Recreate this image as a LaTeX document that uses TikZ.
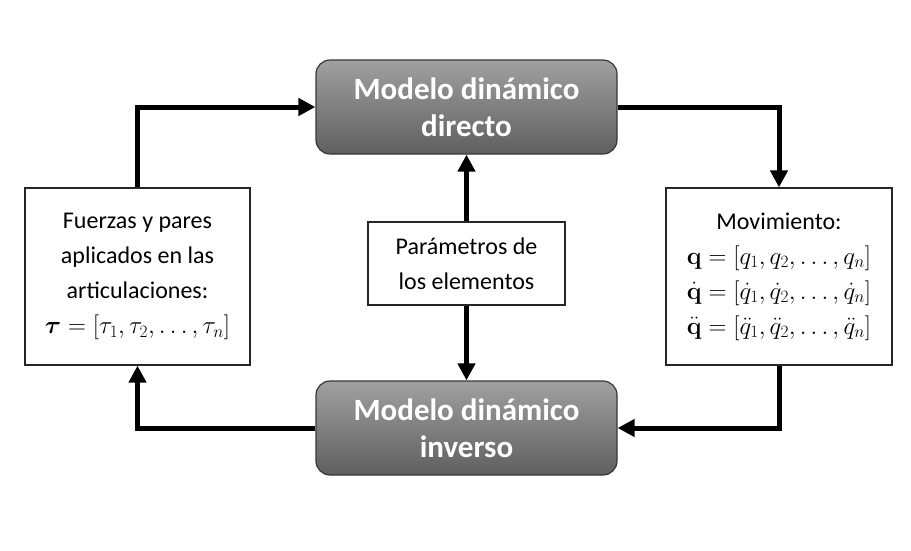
\documentclass[tikz,border=0pt]{standalone}
\usepackage{amsmath,bm}
\usepackage[no-math]{fontspec}
\setmainfont{Carlito}
\usetikzlibrary{arrows.meta}
\definecolor{boxtop}{RGB}{160,160,160}
\definecolor{boxbot}{RGB}{95,95,95}
\definecolor{boxline}{RGB}{55,55,55}
\tikzset{
  model/.style={draw=boxline, line width=1.2pt, rounded corners=14pt,
    top color=boxtop, bottom color=boxbot, text=white,
    minimum width=301pt, minimum height=94pt, align=center, inner sep=0pt,
    font=\fontsize{31}{37}\selectfont\bfseries},
  plain/.style={draw=black!85, line width=1.2pt, fill=white, align=center, inner sep=0pt,
    font=\fontsize{24}{35}\selectfont},
  conn/.style={line width=5pt, -{Triangle[length=17pt,width=17pt]}}
}
\begin{document}
\begin{tikzpicture}[x=1pt,y=-1pt]
\useasboundingbox (0,0) rectangle (911,550);
\node[model] (top) at (466.5,107) {Modelo dinámico\\directo};
\node[model] (bot) at (466.5,428) {Modelo dinámico\\inverso};
\node[plain, minimum width=225pt, minimum height=177pt] (left) at (137.5,276.5)
  {Fuerzas y pares\\aplicados en las\\articulaciones:\\$\bm{\tau}=[\tau_1,\tau_2,\ldots,\tau_n]$};
\node[plain, minimum width=226pt, minimum height=177pt] (right) at (779,276.5)
  {Movimiento:\\$\mathbf{q}=[q_1,q_2,\ldots,q_n]$\\$\dot{\mathbf{q}}=[\dot{q}_1,\dot{q}_2,\ldots,\dot{q}_n]$\\$\ddot{\mathbf{q}}=[\ddot{q}_1,\ddot{q}_2,\ldots,\ddot{q}_n]$};
\node[plain, minimum width=197pt, minimum height=83pt] (mid) at (466.5,263.5)
  {Parámetros de\\los elementos};
\draw[conn] (left.north) |- (top.west);
\draw[conn] (top.east) -| (right.north);
\draw[conn] (right.south) |- (bot.east);
\draw[conn] (bot.west) -| (left.south);
\draw[conn] (mid.north) -- (top.south);
\draw[conn] (mid.south) -- (bot.north);
\end{tikzpicture}
\end{document}
